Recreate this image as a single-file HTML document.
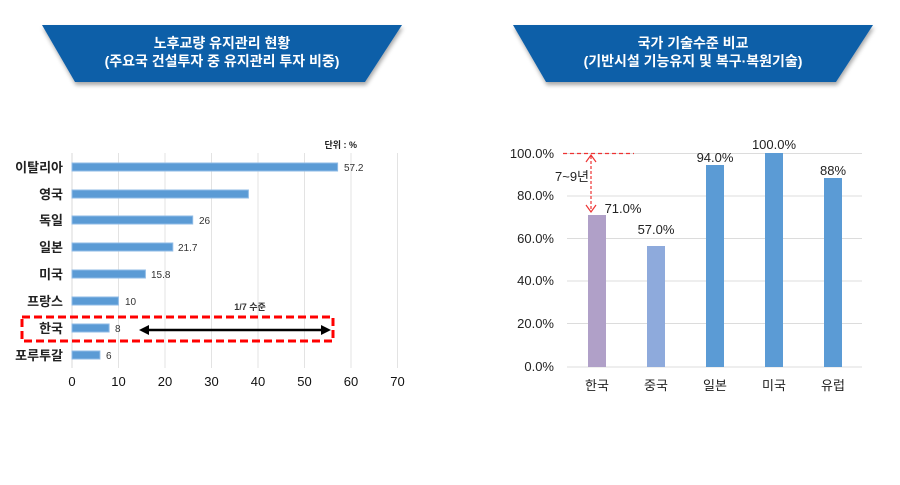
<!DOCTYPE html>
<html><head><meta charset="utf-8"><style>
body{margin:0;width:900px;height:480px;background:#fff;overflow:hidden;font-family:"Liberation Sans","Noto Sans CJK KR",sans-serif}
</style></head><body>
<svg width="900" height="480" xmlns="http://www.w3.org/2000/svg" font-family="Liberation Sans, Noto Sans CJK KR, sans-serif">
<defs><filter id="sh" x="-10%" y="-20%" width="120%" height="150%"><feDropShadow dx="1" dy="3" stdDeviation="2" flood-color="#000" flood-opacity="0.35"/></filter></defs>
<!-- banners -->
<polygon points="42,25 402,25 365,82 75,82" fill="#0d5ea8" filter="url(#sh)"/>
<text x="222" y="48" fill="#fff" font-size="14" font-weight="bold" text-anchor="middle">노후교량 유지관리 현황</text>
<text x="222" y="66" fill="#fff" font-size="14" font-weight="bold" text-anchor="middle">(주요국 건설투자 중 유지관리 투자 비중)</text>
<polygon points="513,25 873,25 836,82 546,82" fill="#0d5ea8" filter="url(#sh)"/>
<text x="693" y="48" fill="#fff" font-size="14" font-weight="bold" text-anchor="middle">국가 기술수준 비교</text>
<text x="693" y="66" fill="#fff" font-size="14" font-weight="bold" text-anchor="middle">(기반시설 기능유지 및 복구·복원기술)</text>

<!-- left chart -->
<g stroke="#e3e3e3" stroke-width="1">
<line x1="118.5" y1="153" x2="118.5" y2="368"/><line x1="165" y1="153" x2="165" y2="368"/>
<line x1="211.5" y1="153" x2="211.5" y2="368"/><line x1="258" y1="153" x2="258" y2="368"/>
<line x1="304.5" y1="153" x2="304.5" y2="368"/><line x1="351" y1="153" x2="351" y2="368"/>
<line x1="397.5" y1="153" x2="397.5" y2="368"/>
</g>
<line x1="72" y1="153" x2="72" y2="368" stroke="#d8d8d8"/>
<text x="357" y="148" font-size="9" font-weight="bold" fill="#222" text-anchor="end">단위 : %</text>
<g fill="#5b9bd5" stroke="#8fbbe6" stroke-width="1">
<rect x="72" y="163" width="265.6" height="8"/>
<rect x="72" y="190" width="176.4" height="8"/>
<rect x="72" y="216" width="120.7" height="8"/>
<rect x="72" y="243" width="100.8" height="8"/>
<rect x="72" y="270" width="73.4" height="8"/>
<rect x="72" y="297" width="46.4" height="8"/>
<rect x="72" y="324" width="37.1" height="8"/>
<rect x="72" y="351" width="27.9" height="8"/>
</g>
<g font-size="10" fill="#333">
<text x="344" y="171">57.2</text><text x="199" y="224">26</text><text x="178" y="251">21.7</text>
<text x="151" y="278">15.8</text><text x="125" y="305">10</text><text x="115" y="332">8</text><text x="106" y="359">6</text>
</g>
<g font-size="13" font-weight="bold" fill="#222" text-anchor="end">
<text x="63" y="172">이탈리아</text><text x="63" y="199">영국</text><text x="63" y="225">독일</text>
<text x="63" y="252">일본</text><text x="63" y="279">미국</text><text x="63" y="306">프랑스</text>
<text x="63" y="333">한국</text><text x="63" y="360">포루투갈</text>
</g>
<g font-size="13" fill="#111" text-anchor="middle">
<text x="72" y="386">0</text><text x="118.5" y="386">10</text><text x="165" y="386">20</text><text x="211.5" y="386">30</text>
<text x="258" y="386">40</text><text x="304.5" y="386">50</text><text x="351" y="386">60</text><text x="397.5" y="386">70</text>
</g>
<rect x="22" y="317" width="311" height="24" fill="none" stroke="#f00" stroke-width="3" stroke-dasharray="8,4"/>
<text x="250" y="310" font-size="9" font-weight="bold" fill="#333" text-anchor="middle">1/7 수준</text>
<line x1="146" y1="330" x2="324" y2="330" stroke="#000" stroke-width="2.5"/>
<polygon points="139,330 149,325 149,335" fill="#000"/><polygon points="331,330 321,325 321,335" fill="#000"/>

<!-- right chart -->
<g stroke="#dcdcdc" stroke-width="1">
<line x1="567" y1="153.5" x2="862" y2="153.5"/><line x1="567" y1="196" x2="862" y2="196"/>
<line x1="567" y1="238.5" x2="862" y2="238.5"/><line x1="567" y1="281" x2="862" y2="281"/>
<line x1="567" y1="323.5" x2="862" y2="323.5"/><line x1="567" y1="367" x2="862" y2="367"/>
</g>
<g font-size="13" fill="#222" text-anchor="end">
<text x="554" y="158">100.0%</text><text x="554" y="200">80.0%</text><text x="554" y="243">60.0%</text>
<text x="554" y="285">40.0%</text><text x="554" y="328">20.0%</text><text x="554" y="371">0.0%</text>
</g>
<rect x="588" y="215" width="18" height="152" fill="#b0a0c8"/>
<rect x="647" y="246" width="18" height="121" fill="#8eaadc"/>
<rect x="706" y="165" width="18" height="202" fill="#5b9bd5"/>
<rect x="765" y="153" width="18" height="214" fill="#5b9bd5"/>
<rect x="824" y="178" width="18" height="189" fill="#5b9bd5"/>
<g font-size="13" fill="#222" text-anchor="middle">
<text x="623" y="213">71.0%</text><text x="656" y="234">57.0%</text><text x="715" y="162">94.0%</text>
<text x="774" y="149">100.0%</text><text x="833" y="175">88%</text>
</g>
<g font-size="13" fill="#222" text-anchor="middle">
<text x="597" y="390">한국</text><text x="656" y="390">중국</text><text x="715" y="390">일본</text>
<text x="774" y="390">미국</text><text x="833" y="390">유럽</text>
</g>
<line x1="563" y1="153.5" x2="634" y2="153.5" stroke="#e33" stroke-width="1.2" stroke-dasharray="4,3"/>
<line x1="591" y1="156" x2="591" y2="211" stroke="#e33" stroke-width="1.2" stroke-dasharray="3,2"/>
<polyline points="586,162 591,155 596,162" fill="none" stroke="#e33" stroke-width="1.2"/>
<polyline points="586,205 591,212 596,205" fill="none" stroke="#e33" stroke-width="1.2"/>
<text x="555" y="181" font-size="13" fill="#222">7~9년</text>
</svg>
</body></html>
